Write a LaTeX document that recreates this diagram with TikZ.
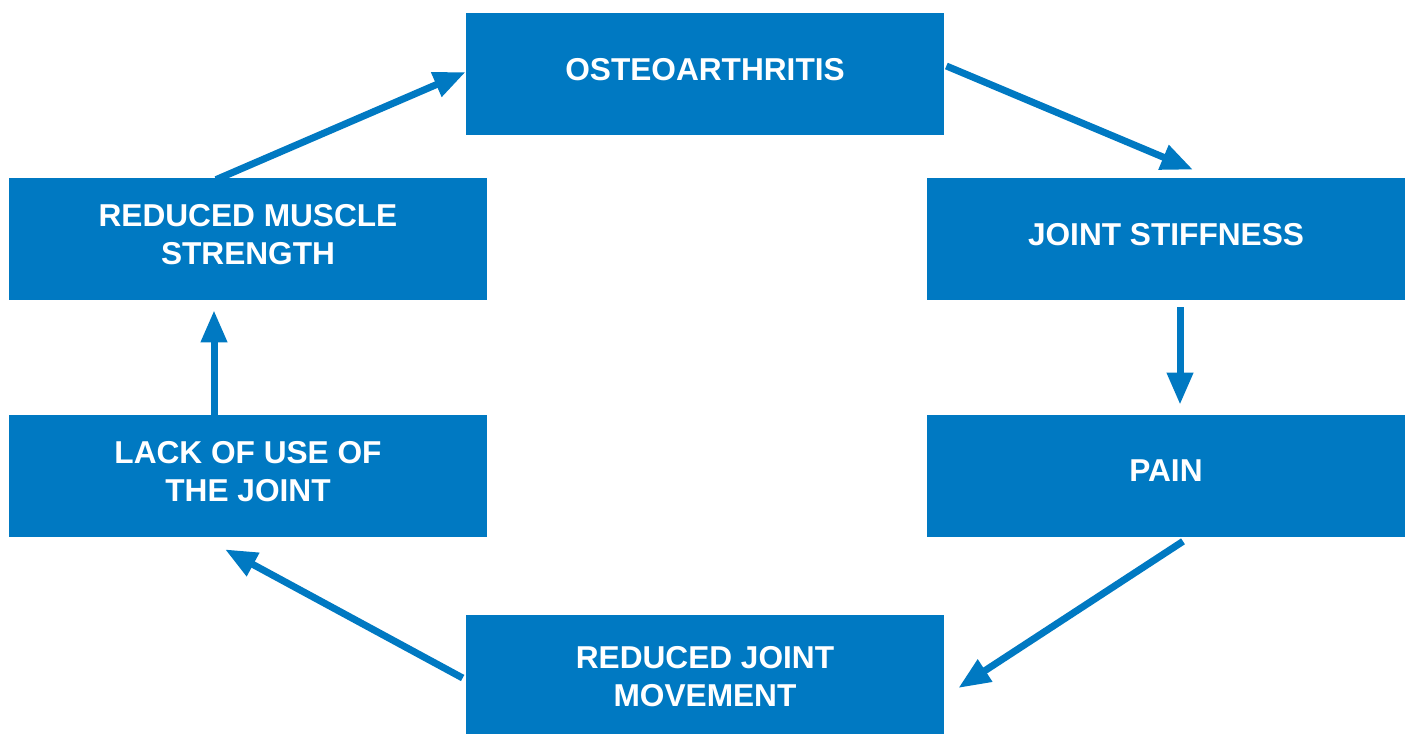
\documentclass[tikz,border=0pt]{standalone}
\usepackage{fontspec}
\setmainfont{Liberation Sans}
\usetikzlibrary{arrows.meta, positioning}

\begin{document}
\begin{tikzpicture}[
    every node/.style={font=\bfseries},
]

% ---------------------------------------------------------------- colours
\definecolor{c1}{HTML}{0079C2}   % boxes and arrows

% ---------------------------------------------------------------- styles
\tikzset{
    stage/.style={
        rectangle, minimum width=9.56cm, minimum height=2.44cm,
        fill=c1, text=white, align=center,
        font=\fontsize{18}{21.6}\selectfont\bfseries,
        % a little depth under the last line lifts the caps off centre
        execute at end node={\rule[-0.2cm]{0pt}{0.2cm}},
    },
    flow/.style={
        -{Triangle[length=0.64cm, width=0.5cm]}, line width=0.14cm, c1,
    },
}

\useasboundingbox (0, 0) rectangle (28.2, 14.66);

% ================================================================
% GEOMETRY
%   left column  x = 4.96, right column x = 23.32, middle x = 14.1
%   rows         y = 13.22 / 9.88 / 5.14 / 1.04 (bottom box runs off)
% ================================================================

% ---------------------------------------------------------------- the cycle
\node[stage] (oa)   at (14.1, 13.18) {OSTEOARTHRITIS};
\node[stage] (js)   at (23.32, 9.88) {JOINT STIFFNESS};
\node[stage] (pain) at (23.32, 5.14) {PAIN};
\node[stage, minimum height=2.64cm] (rjm) at (14.1, 1.04)
    {REDUCED JOINT\\MOVEMENT};
\node[stage] (lack) at (4.96, 5.14)  {LACK OF USE OF\\THE JOINT};
\node[stage] (rms)  at (4.96, 9.88)  {REDUCED MUSCLE\\STRENGTH};

% ---------------------------------------------------------------- arrows
\draw[flow] ([xshift=0.04cm, yshift=0.16cm]oa.east)
    -- ([xshift=0.54cm, yshift=0.16cm]js.north);
\draw[flow] ([xshift=0.28cm, yshift=-0.14cm]js.south)
    -- ([xshift=0.28cm, yshift=0.2cm]pain.north);
\draw[flow] ([xshift=0.34cm, yshift=-0.08cm]pain.south)
    -- ([xshift=0.28cm, yshift=-0.14cm]rjm.east);
\draw[flow] ([xshift=-0.06cm, yshift=0.06cm]rjm.west)
    -- ([xshift=-0.46cm, yshift=-0.24cm]lack.south);
\draw[flow] ([xshift=-0.68cm, yshift=-0.16cm]lack.north)
    -- ([xshift=-0.68cm, yshift=-0.2cm]rms.south);
\draw[flow] ([xshift=-0.64cm, yshift=-0.04cm]rms.north)
    -- ([yshift=0.04cm]oa.west);

\end{tikzpicture}
\end{document}
